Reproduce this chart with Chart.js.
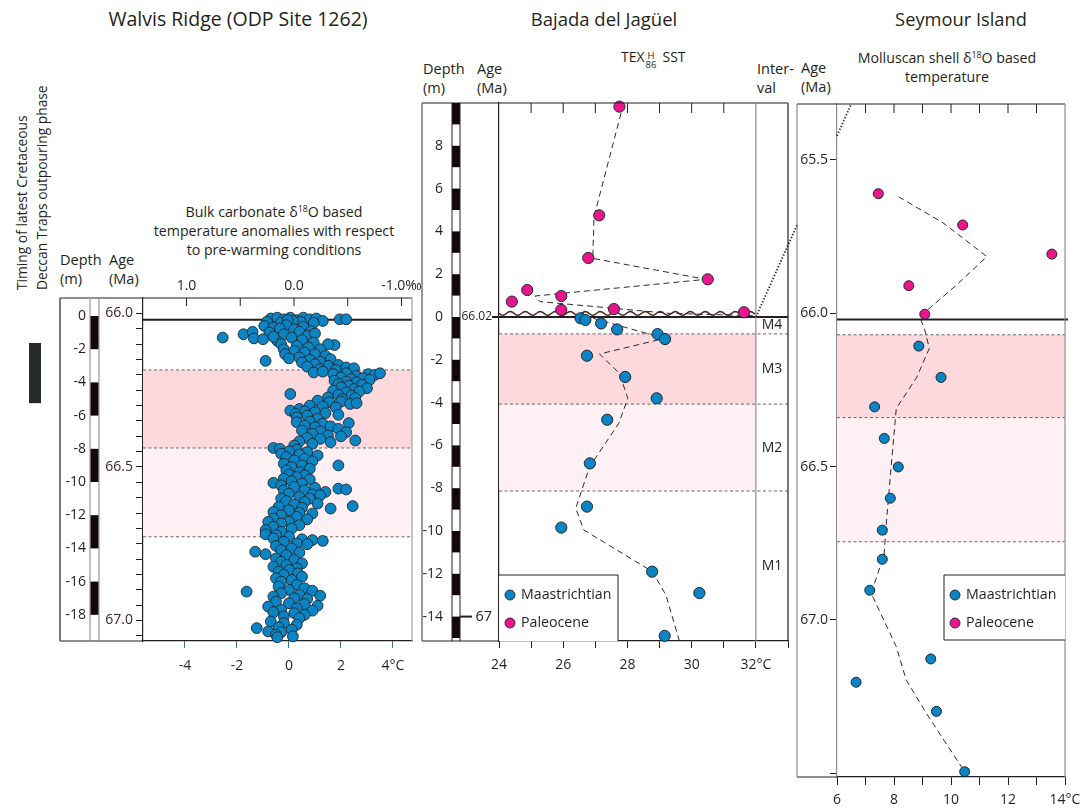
<!DOCTYPE html>
<html lang="en">
<head>
<meta charset="UTF-8">
<title>Latest Maastrichtian warming: Walvis Ridge, Bajada del Jagüel, Seymour Island</title>
<script src="https://cdn.jsdelivr.net/npm/chart.js"></script>
<style>
  body { margin: 0; background: #fff; }
  #page { position: relative; width: 1086px; height: 809px; overflow: hidden;
          font-family: "Open Sans", sans-serif; color: #231f20; }
  #page canvas { position: absolute; }
  .t { position: absolute; white-space: nowrap; font-size: 14.5px; line-height: 18px; transform: translate(0, -50%); }
  .c { transform: translate(-50%, -50%); text-align: center; }
  .sub { font-size: 14.2px; line-height: 19px; }
  sup { font-size: 0.62em; line-height: 0; vertical-align: 0.55em; }
  .ss { display: inline-block; vertical-align: -6px; font-size: 9.5px; line-height: 9px; margin: 0 6px 0 1px; text-align: center; }
  .ss span { display: block; }
  .rot { position: absolute; left: 12px; top: 290px; transform-origin: 0 0; transform: rotate(-90deg);
         font-size: 13.8px; line-height: 19.5px; white-space: nowrap; }
</style>
</head>
<body>
<div id="page">
  <div class="t c" style="left:238px;top:19px;font-size:19.5px">Walvis Ridge (ODP Site 1262)</div>
  <div class="t c" style="left:604px;top:19px;font-size:18.5px">Bajada del Jagüel</div>
  <div class="t c" style="left:961px;top:19px;font-size:18.3px">Seymour Island</div>

  <div class="rot">Timing of latest Cretaceous<br>Deccan Traps outpouring phase</div>
  <div class="t" style="left:60px;top:260px">Depth</div>
  <div class="t" style="left:60px;top:279px">(m)</div>
  <div class="t" style="left:109px;top:260px">Age</div>
  <div class="t" style="left:109px;top:279px">(Ma)</div>
  <div class="t c sub" style="left:274px;top:230px">Bulk carbonate δ<sup>18</sup>O based<br>temperature anomalies with respect<br>to pre-warming conditions</div>

  <div class="t" style="left:423px;top:69px">Depth</div>
  <div class="t" style="left:423px;top:88px">(m)</div>
  <div class="t" style="left:477px;top:69px">Age</div>
  <div class="t" style="left:477px;top:88px">(Ma)</div>
  <div class="t" style="left:621px;top:58px;font-size:14px">TEX<span class="ss"><span>H</span><span>86</span></span>SST</div>
  <div class="t" style="left:757px;top:69px">Inter-</div>
  <div class="t" style="left:757px;top:88px">val</div>

  <div class="t" style="left:801px;top:68px">Age</div>
  <div class="t" style="left:801px;top:87px">(Ma)</div>
  <div class="t c sub" style="left:947px;top:67px">Molluscan shell δ<sup>18</sup>O based<br>temperature</div>

  <canvas id="walvis" width="440" height="430" style="left:0;top:260px"></canvas>
  <canvas id="jaguel" width="375" height="590" style="left:420px;top:95px"></canvas>
  <canvas id="seymour" width="296" height="714" style="left:790px;top:95px"></canvas>
  <canvas id="links" width="1086" height="809" style="left:0;top:0"></canvas>
</div>

<script>
// ---------- Walvis Ridge (ODP 1262): [depth m, temperature anomaly °C] ----------
const walvisPoints = [
  [-0.15,-0.7],[-0.1,-0.45],[-0.2,-0.2],[-0.1,0.05],[-0.25,0.3],[-0.1,0.55],[-0.2,0.8],[-0.15,1.05],[-0.3,1.3],
  [-0.2,1.95],[-0.2,2.2],[-0.35,-0.85],[-0.4,-0.3],[-0.35,0.45],[-0.3,0.15],[-0.4,0.95],[-0.25,-0.05],
  [-0.6,-0.95],[-0.7,-0.6],[-0.55,-0.1],[-0.8,0.2],[-0.65,0.55],[-0.9,0.85],[-0.75,-0.35],[-1.0,-0.75],
  [-1.1,-0.2],[-0.95,0.4],[-1.2,0.7],[-1.05,1.0],[-1.3,-2.55],[-1.1,-1.75],[-0.95,-1.4],[-1.35,-1.35],
  [-1.4,-1.0],[-1.3,0.1],[-1.5,-0.45],[-1.45,0.5],[-1.6,0.95],[-1.25,-0.6],
  [-1.7,-0.3],[-1.75,1.75],[-1.7,1.5],[-1.8,0.3],[-1.9,0.75],[-2.0,-0.2],[-2.0,1.2],[-2.1,0.2],[-2.2,0.6],
  [-2.3,-0.15],[-2.3,1.0],[-2.4,1.4],[-2.5,0.4],[-2.55,0.0],[-2.7,-0.9],[-2.65,0.8],[-2.75,1.2],[-2.6,1.6],[-2.8,0.5],
  [-2.9,1.0],[-3.0,1.5],[-2.95,1.9],[-3.1,2.2],[-3.05,0.7],[-3.2,1.2],[-3.25,1.8],[-3.15,2.5],
  [-3.4,0.95],[-3.35,1.3],[-3.5,1.7],[-3.45,2.2],[-3.6,2.6],[-3.5,3.05],[-3.55,3.3],[-3.45,3.5],[-3.7,2.0],
  [-3.8,2.4],[-3.75,2.85],[-3.9,1.75],[-3.95,2.2],[-3.85,3.1],[-4.0,2.6],
  [-4.1,1.9],[-4.2,2.3],[-4.15,2.8],[-4.3,2.0],[-4.4,2.5],[-4.35,3.0],[-4.5,1.7],[-4.6,2.2],[-4.55,2.7],
  [-4.7,0.05],[-4.75,1.9],[-4.8,2.4],[-4.9,1.5],[-5.0,2.05],[-4.95,2.55],
  [-5.1,1.1],[-5.2,1.55],[-5.15,2.0],[-5.3,2.35],[-5.25,2.6],[-5.4,0.8],[-5.45,1.3],[-5.5,1.8],[-5.6,0.4],
  [-5.7,0.05],[-5.75,0.6],[-5.8,1.0],[-5.9,0.25],[-5.85,1.4],[-6.0,0.7],[-5.95,1.9],[-6.1,0.3],[-6.2,1.1],
  [-6.4,0.3],[-6.35,0.8],[-6.5,1.3],[-6.45,2.3],[-6.6,0.6],[-6.7,1.0],[-6.65,1.6],[-6.8,1.9],[-6.9,0.5],
  [-6.95,1.2],[-7.0,2.2],[-7.1,0.9],[-7.2,1.5],[-7.25,2.0],[-7.35,0.7],[-7.4,1.2],[-7.5,2.55],[-7.55,0.4],
  [-7.6,1.6],[-7.7,0.9],[-7.8,0.2],
  [-7.95,-0.6],[-8.0,-0.35],[-8.05,0.3],[-8.15,0.0],[-8.2,0.7],[-8.3,-0.3],[-8.35,0.4],[-8.4,1.1],[-8.5,-0.1],
  [-8.6,0.6],[-8.7,0.2],[-8.75,0.9],[-8.9,-0.2],[-9.0,1.9],[-9.0,0.5],[-9.1,0.1],[-9.2,0.8],[-9.3,-0.1],[-9.4,0.4],
  [-9.55,0.0],[-9.6,0.6],[-9.7,0.3],[-9.8,-0.2],[-9.85,0.8],[-9.95,0.1],[-10.05,-0.6],[-10.1,0.5],[-10.2,-0.3],
  [-10.3,0.2],[-10.35,1.0],[-10.4,1.9],[-10.45,2.2],[-10.5,-0.2],[-10.5,0.6],[-10.6,1.4],[-10.7,0.0],[-10.75,0.9],
  [-10.8,1.2],[-10.9,0.4],[-11.0,-0.3],[-11.0,0.8],
  [-11.15,-0.1],[-11.2,0.6],[-11.3,1.1],[-11.35,0.2],[-11.45,2.45],[-11.5,-0.4],[-11.55,0.5],[-11.6,1.6],
  [-11.7,0.0],[-11.8,-0.6],[-11.85,0.4],[-11.9,0.9],[-12.0,-0.3],[-12.1,0.3],[-12.2,-0.6],[-12.25,0.7],
  [-12.4,-0.8],[-12.4,0.0],[-12.5,-0.3],[-12.6,0.4],[-12.7,-0.6],[-12.8,0.1],[-12.9,-0.9],[-13.0,-0.3],
  [-13.15,-0.9],[-13.2,-0.5],[-13.3,0.0],[-13.4,-0.6],[-13.45,0.5],[-13.5,0.9],[-13.55,1.3],[-13.6,-0.2],
  [-13.7,0.3],[-13.75,0.7],[-13.85,-0.5],[-14.0,0.1],[-14.1,-0.3],[-14.2,-1.3],[-14.25,0.4],[-14.35,-0.9],[-14.4,-0.1],
  [-14.6,-0.5],[-14.7,0.2],[-14.8,-0.3],[-14.9,0.5],[-15.0,-0.1],[-15.1,-0.6],[-15.2,0.3],[-15.3,0.0],
  [-15.4,-0.4],[-15.5,0.35],[-15.6,-0.2],[-15.7,0.5],[-15.8,-0.5],[-15.9,0.1],[-16.0,-0.3],
  [-16.2,0.3],[-16.3,-0.4],[-16.4,0.6],[-16.5,0.0],[-16.6,-1.63],[-16.55,0.9],[-16.7,-0.3],[-16.8,0.4],
  [-16.85,1.2],[-16.9,-0.6],[-17.0,0.2],[-17.05,0.7],
  [-17.2,-0.5],[-17.3,0.0],[-17.35,0.6],[-17.45,1.1],[-17.5,-0.8],[-17.6,0.3],[-17.7,-0.3],[-17.75,0.9],
  [-17.85,-0.6],[-17.9,0.2],[-18.0,0.6],[-18.1,-0.2],[-18.2,0.4],
  [-18.4,-0.7],[-18.5,-0.2],[-18.6,0.3],[-18.8,-1.24],[-18.75,-0.4],[-18.9,0.1],[-19.0,-0.8],[-19.05,-0.3],
  [-19.2,-0.5],[-19.3,0.15],[-19.35,-0.45]
];
const walvisDepthTicks = [0, -2, -4, -6, -8, -10, -12, -14, -16, -18];
const walvisCores = [[0, -2], [-4, -6], [-8, -10], [-12, -14], [-16, -18]];
const walvisAgeLabels = [66.0, 66.5, 67.0];
const walvisTempTicks = [-4, -2, 0, 2, 4];
const walvisTempLabels = ['-4', '-2', '0', '2', '4°C'];
const walvisPermilTicks = [1.0, 0.5, 0, -0.5, -1.0];
const walvisPermilLabels = ['1.0', '', '0.0', '', '-1.0‰'];
const walvisBandDepths = [-3.25, -7.95, -13.3];
const deccanAges = [66.096, 66.292];

// ---------- Bajada del Jagüel: TEX86H SST ----------
const jagMaaDepth = [-0.06, -0.14, -0.3, -0.58, -0.8, -1.03, -1.81, -2.8, -3.8, -4.8, -6.84, -8.86, -9.84, -11.9, -12.9, -14.9];
const jagMaaTemp  = [26.54, 26.69, 27.18, 27.68, 28.94, 29.17, 26.74, 27.93, 28.91, 27.37, 26.83, 26.74, 25.94, 28.77, 30.24, 29.16];
const jagPalDepth = [9.83, 4.75, 2.76, 1.76, 1.26, 0.72, 0.98, 0.33, 0.37, 0.22];
const jagPalTemp  = [27.75, 27.12, 26.78, 30.5, 24.88, 24.4, 25.94, 25.94, 27.58, 31.63];
const jagMaaTrendDepth = [-0.06, -1.0, -1.73, -2.63, -3.8, -4.97, -7.0, -8.94, -9.95, -11.9, -13.0, -15.1];
const jagMaaTrendTemp  = [26.93, 29.15, 27.13, 27.75, 28.01, 27.73, 26.82, 26.39, 26.64, 28.78, 29.2, 29.61];
const jagPalTrendDepth = [9.52, 4.69, 2.74, 1.76, 0.98, 0.72, 0.17, 0.06];
const jagPalTrendTemp  = [27.8, 26.96, 26.92, 30.44, 25.12, 25.27, 29.3, 31.94];
const jagDepthTicks = [8, 6, 4, 2, 0, -2, -4, -6, -8, -10, -12, -14];
const jagAgeDepths = [0, -14];
const jagAgeLabels = ['66.02', '67'];
const jagCores = [[-15, -14], [-13, -12], [-11, -10], [-9, -8], [-7, -6], [-5, -4], [-3, -2], [-1, 0],
                  [1, 2], [3, 4], [5, 6], [7, 8], [9, 10]];
const jagTempTicks = [24, 25, 26, 27, 28, 29, 30, 31, 32, 33];
const jagTempLabels = ['24', '', '26', '', '28', '', '30', '', '32°C', ''];
const jagTopTicks = [25, 26, 27, 28, 29, 30, 31];
const jagBandDepths = [-0.79, -4.07, -8.13];
const jagIntervals = ['M4', 'M3', 'M2', 'M1'];
const jagIntervalBounds = [0, -0.79, -4.07, -8.13, -15.1];

// ---------- Seymour Island: molluscan d18O temperature ----------
const seyPalAge  = [65.61, 65.712, 65.807, 65.91, 66.003];
const seyPalTemp = [7.45, 10.41, 13.54, 8.52, 9.08];
const seyMaaAge  = [66.107, 66.209, 66.305, 66.408, 66.501, 66.603, 66.707, 66.802, 66.903, 67.127, 67.203, 67.298, 67.495];
const seyMaaTemp = [8.87, 9.65, 7.32, 7.66, 8.15, 7.87, 7.59, 7.59, 7.15, 9.29, 6.67, 9.49, 10.48];
const seyTrendAge  = [65.62, 65.705, 65.815, 65.908, 66.011, 66.054, 66.114, 66.21, 66.31, 66.5, 66.685, 66.788, 66.913, 67.087, 67.196, 67.305, 67.495];
const seyTrendTemp = [8.16, 9.72, 11.26, 10.19, 8.9, 9.08, 9.24, 8.79, 8.08, 7.9, 7.73, 7.65, 7.2, 8.08, 8.43, 9.14, 10.48];
const seyAgeTicks = [65.5, 66.0, 66.5, 67.0, 67.5];
const seyAgeLabels = ['65.5', '66.0', '66.5', '67.0', ''];
const seyTempTicks = [6, 7, 8, 9, 10, 11, 12, 13, 14];
const seyTempLabels = ['6', '', '8', '', '10', '', '12', '', '14°C'];
const seyTopTicks = [7, 8, 9, 10, 11, 12, 13];
const seyBandAges = [66.07, 66.34, 66.745];

const KPG_AGE = 66.02;
const legendNames = ['Maastrichtian', 'Paleocene'];
const connectorFrom = [32, 0];   // Jagüel: °C, depth
const connectorTo = 6.5;         // Seymour: °C at top edge

// colours
const INK = '#231f20';
const GREY = '#8e8e8e';
const BLUE = '#0b84c4';
const PINK = '#ec148c';
const EDGE = '#1d2830';
const PINK_DARK = '#fdd9de';
const PINK_LIGHT = '#fff0f3';
const DASH = '#6f6468';

Chart.defaults.font.family = '"Open Sans", sans-serif';
Chart.defaults.font.size = 13.5;
Chart.defaults.color = INK;

function hline(ctx, x1, x2, y, color, width, dash) {
  ctx.save();
  ctx.strokeStyle = color; ctx.lineWidth = width; ctx.setLineDash(dash || []);
  ctx.beginPath(); ctx.moveTo(x1, y); ctx.lineTo(x2, y); ctx.stroke();
  ctx.restore();
}
function vline(ctx, x, y1, y2, color, width, dash) {
  ctx.save();
  ctx.strokeStyle = color; ctx.lineWidth = width; ctx.setLineDash(dash || []);
  ctx.beginPath(); ctx.moveTo(x, y1); ctx.lineTo(x, y2); ctx.stroke();
  ctx.restore();
}
function drawBands(ctx, scale, bounds, x1, x2, xDash) {
  const p = bounds.map(v => scale.getPixelForValue(v));
  ctx.fillStyle = PINK_DARK; ctx.fillRect(x1, p[0], x2 - x1, p[1] - p[0]);
  ctx.fillStyle = PINK_LIGHT; ctx.fillRect(x1, p[1], x2 - x1, p[2] - p[1]);
  p.forEach(y => hline(ctx, x1, xDash, y, DASH, 1, [3, 2.5]));
}
function drawLegend(ctx, left, top, w, h, sides) {
  ctx.save();
  ctx.fillStyle = '#fff';
  ctx.fillRect(left, top, w, h);
  hline(ctx, left, left + w, top, INK, 1);
  if (sides.includes('bottom')) hline(ctx, left, left + w, top + h, INK, 1);
  if (sides.includes('left')) vline(ctx, left, top, top + h, INK, 1);
  if (sides.includes('right')) vline(ctx, left + w, top, top + h, INK, 1);
  [BLUE, PINK].forEach((c, i) => {
    const cy = top + 20 + i * 28;
    ctx.beginPath(); ctx.arc(left + 11, cy, 5, 0, Math.PI * 2);
    ctx.fillStyle = c; ctx.fill();
    ctx.lineWidth = 0.9; ctx.strokeStyle = EDGE; ctx.stroke();
    ctx.fillStyle = INK; ctx.font = '14.2px "Open Sans", sans-serif';
    ctx.textAlign = 'left'; ctx.textBaseline = 'middle';
    ctx.fillText(legendNames[i], left + 22, cy);
  });
  ctx.restore();
}
function drawInnerTicks(ctx, scale, values, top, len) {
  values.forEach(v => vline(ctx, scale.getPixelForValue(v), top, top + len, INK, 1));
}
function fixedTicks(values) {
  return s => { s.ticks = values.map(v => ({ value: v })); };
}
// fixed axis size, and no extra room for overhanging end labels
function fitWidth(w) {
  return s => { s.width = w; s.paddingTop = 0; s.paddingBottom = 0; };
}
function fitHeight(h) {
  return s => { s.height = h; s.paddingLeft = 0; s.paddingRight = 0; };
}
const common = {
  responsive: false,
  animation: false,
  events: [],
  plugins: { legend: { display: false }, tooltip: { enabled: false } }
};

// ---------------- Walvis Ridge ----------------
const walvisAgeTicks = Array.from({ length: 22 }, (_, i) => +(66.0 + i * 0.05).toFixed(2));

const walvisDecor = {
  id: 'walvisDecor',
  beforeDatasetsDraw(chart) {
    const { ctx, chartArea: a, scales } = chart;
    drawBands(ctx, scales.y, walvisBandDepths, a.left, a.right, a.right);
    hline(ctx, a.left, a.right, scales.yAge.getPixelForValue(KPG_AGE), INK, 2);
  },
  afterDraw(chart) {
    const { ctx, chartArea: a, scales } = chart;
    const y = scales.y;
    hline(ctx, y.left, a.right, a.top, INK, 1.2);
    hline(ctx, y.left, a.left, a.bottom, INK, 1.2);
    vline(ctx, y.left, a.top, a.bottom, INK, 1.2);
    vline(ctx, a.right, a.top, a.bottom, '#a0a0a0', 1.2);
    const s1 = y.right - 10, s2 = y.right - 1;
    ctx.fillStyle = '#140707';
    walvisCores.forEach(([d1, d2]) => {
      const p1 = y.getPixelForValue(d1), p2 = y.getPixelForValue(d2);
      ctx.fillRect(s1, p1, s2 - s1, p2 - p1);
    });
    vline(ctx, s1, a.top, a.bottom, '#a0a0a0', 1.3);
    vline(ctx, s2, a.top, a.bottom, '#a0a0a0', 1.3);
    drawInnerTicks(ctx, scales.xTop, walvisPermilTicks, a.top, 8);
    const d1 = scales.yAge.getPixelForValue(deccanAges[0]);
    const d2 = scales.yAge.getPixelForValue(deccanAges[1]);
    ctx.fillStyle = '#26292c';
    ctx.fillRect(29, d1, 12, d2 - d1);
  }
};

const walvis = new Chart(document.getElementById('walvis'), {
  type: 'scatter',
  data: {
    datasets: [{
      data: walvisPoints.map(([d, t]) => ({ x: t, y: d })),
      backgroundColor: BLUE, borderColor: EDGE, borderWidth: 0.9,
      pointRadius: 5.4, clip: false
    }]
  },
  options: {
    ...common,
    layout: { padding: { left: 60, right: 28, top: 0, bottom: 0 } },
    scales: {
      x: {
        type: 'linear', position: 'bottom', min: -5.615, max: 4.731,
        afterFit: fitHeight(49),
        afterBuildTicks: fixedTicks(walvisTempTicks),
        ticks: { autoSkip: false, maxRotation: 0, padding: 10, font: { size: 14 }, callback: (v, i) => walvisTempLabels[i] },
        grid: { drawOnChartArea: false, tickLength: 7, tickColor: '#46708a' },
        border: { color: INK, width: 1.2 }
      },
      xTop: {
        type: 'linear', position: 'top', reverse: true, min: -1.098, max: 1.405,
        afterFit: fitHeight(38),
        afterBuildTicks: fixedTicks(walvisPermilTicks),
        ticks: { autoSkip: false, maxRotation: 0, padding: 4, font: { size: 14 }, callback: (v, i) => walvisPermilLabels[i] },
        grid: { display: false, drawTicks: false },
        border: { display: false }
      },
      y: {
        type: 'linear', position: 'left', weight: 2, min: -19.578, max: 1.084,
        afterFit: fitWidth(40),
        afterBuildTicks: fixedTicks(walvisDepthTicks),
        ticks: { autoSkip: false, padding: 14, font: { size: 14 }, callback: v => String(v) },
        grid: { display: false, drawTicks: false },
        border: { display: false }
      },
      yAge: {
        type: 'linear', position: 'left', weight: 1, reverse: true, min: 65.9495, max: 67.0668,
        afterFit: fitWidth(43),
        afterBuildTicks: fixedTicks(walvisAgeTicks),
        ticks: {
          autoSkip: false, padding: 3, color: '#3d2326', font: { size: 14 },
          callback: v => walvisAgeLabels.some(l => Math.abs(l - v) < 1e-6) ? v.toFixed(1) : ''
        },
        grid: { drawOnChartArea: false, tickLength: 7, tickColor: INK },
        border: { display: true, color: INK, width: 1.2 }
      }
    }
  },
  plugins: [walvisDecor]
});

// ---------------- Bajada del Jagüel ----------------
const jagDecor = {
  id: 'jagDecor',
  beforeDatasetsDraw(chart) {
    const { ctx, chartArea: a, scales: { x, y, yAge } } = chart;
    const split = x.getPixelForValue(32);
    drawBands(ctx, y, jagBandDepths, a.left, split, a.right);
    // unconformity (wavy line) just above the K-Pg boundary
    ctx.save();
    ctx.strokeStyle = '#4b2b22'; ctx.lineWidth = 1.5;
    ctx.beginPath();
    const yw = y.getPixelForValue(0.17);
    for (let px = a.left; px <= split; px += 1) {
      const py = yw + 1.8 * Math.sin((px - a.left) / 15 * Math.PI * 2);
      if (px === a.left) ctx.moveTo(px, py); else ctx.lineTo(px, py);
    }
    ctx.stroke();
    ctx.restore();
    hline(ctx, yAge.right - 7, a.right, y.getPixelForValue(0), INK, 2);
  },
  afterDraw(chart) {
    const { ctx, chartArea: a, scales: { x, y } } = chart;
    hline(ctx, y.left, a.right, a.top, INK, 1.2);
    hline(ctx, y.left, a.left, a.bottom, INK, 1.2);
    vline(ctx, y.left, a.top, a.bottom, '#555', 1.2);
    vline(ctx, a.right, a.top, a.bottom, INK, 1.2);
    vline(ctx, x.getPixelForValue(32), a.top, a.bottom, GREY, 1.2);
    const s1 = y.right - 8, s2 = y.right;
    ctx.fillStyle = '#140707';
    jagCores.forEach(([d1, d2]) => {
      const p1 = y.getPixelForValue(d1), p2 = y.getPixelForValue(d2);
      ctx.fillRect(s1, p2, s2 - s1, p1 - p2);
    });
    vline(ctx, s1, a.top, a.bottom, INK, 1);
    vline(ctx, s2, a.top, a.bottom, INK, 1);
    hline(ctx, s2, s2 + 12, y.getPixelForValue(jagAgeDepths[1]), INK, 2);
    drawInnerTicks(ctx, x, jagTopTicks, a.top, 10);
    ctx.save();
    ctx.fillStyle = INK; ctx.font = '14px "Open Sans", sans-serif';
    ctx.textAlign = 'center'; ctx.textBaseline = 'middle';
    jagIntervals.forEach((name, i) => {
      const cy = (y.getPixelForValue(jagIntervalBounds[i]) + y.getPixelForValue(jagIntervalBounds[i + 1])) / 2;
      ctx.fillText(name, x.getPixelForValue(32.5), cy);
    });
    ctx.restore();
    drawLegend(ctx, a.left, a.bottom - 66, 119, 66, ['right']);
  }
};

const dashed = { showLine: true, pointRadius: 0, borderColor: '#2b2b2b', borderWidth: 1, borderDash: [6, 4], fill: false, tension: 0 };

const jaguel = new Chart(document.getElementById('jaguel'), {
  type: 'scatter',
  data: {
    datasets: [
      { label: 'Paleocene', data: jagPalDepth.map((d, i) => ({ x: jagPalTemp[i], y: d })),
        backgroundColor: PINK, borderColor: EDGE, borderWidth: 1, pointRadius: 5.6, clip: false },
      { label: 'Maastrichtian', data: jagMaaDepth.map((d, i) => ({ x: jagMaaTemp[i], y: d })),
        backgroundColor: BLUE, borderColor: EDGE, borderWidth: 1, pointRadius: 5.6, clip: false },
      { ...dashed, data: jagPalTrendDepth.map((d, i) => ({ x: jagPalTrendTemp[i], y: d })) },
      { ...dashed, data: jagMaaTrendDepth.map((d, i) => ({ x: jagMaaTrendTemp[i], y: d })) }
    ]
  },
  options: {
    ...common,
    layout: { padding: { left: 2, right: 7, top: 8, bottom: 0 } },
    scales: {
      x: {
        type: 'linear', position: 'bottom', min: 24, max: 33,
        afterFit: fitHeight(44),
        afterBuildTicks: fixedTicks(jagTempTicks),
        ticks: { autoSkip: false, maxRotation: 0, padding: 9, font: { size: 14 }, callback: (v, i) => jagTempLabels[i] },
        grid: { drawOnChartArea: false, tickLength: 7, tickColor: INK },
        border: { color: INK, width: 1.2 }
      },
      y: {
        type: 'linear', position: 'left', weight: 2, min: -15.14, max: 10.0,
        afterFit: fitWidth(38),
        afterBuildTicks: fixedTicks(jagDepthTicks),
        ticks: { autoSkip: false, padding: 17, font: { size: 14 }, callback: v => String(v) },
        grid: { display: false, drawTicks: false },
        border: { display: false }
      },
      yAge: {
        type: 'linear', position: 'left', weight: 1, min: -15.14, max: 10.0,
        afterFit: fitWidth(39),
        afterBuildTicks: fixedTicks(jagAgeDepths),
        ticks: {
          autoSkip: false, padding: 7,
          font: c => ({ size: c.index === 0 ? 12 : 14.5 }),
          callback: (v, i) => jagAgeLabels[i]
        },
        grid: { display: false, drawTicks: false },
        border: { display: true, color: INK, width: 1.2 }
      }
    }
  },
  plugins: [jagDecor]
});

// ---------------- Seymour Island ----------------
const seyDecor = {
  id: 'seyDecor',
  beforeDatasetsDraw(chart) {
    const { ctx, chartArea: a, scales: { y } } = chart;
    drawBands(ctx, y, seyBandAges, a.left, a.right, a.right);
    hline(ctx, a.left, a.right + 3, y.getPixelForValue(KPG_AGE), INK, 2);
  },
  afterDraw(chart) {
    const { ctx, chartArea: a, scales: { x, y } } = chart;
    hline(ctx, y.left, a.right, a.top, INK, 1.2);
    hline(ctx, y.left, a.left, a.bottom, INK, 1.2);
    vline(ctx, y.left, a.top, a.bottom, GREY, 1.2);
    vline(ctx, a.right, a.top, a.bottom, GREY, 1.2);
    drawInnerTicks(ctx, x, seyTopTicks, a.top, 9);
    drawLegend(ctx, a.right - 121, a.bottom - 202, 121, 65, ['left', 'bottom']);
  }
};

const seymour = new Chart(document.getElementById('seymour'), {
  type: 'scatter',
  data: {
    datasets: [
      { label: 'Paleocene', data: seyPalAge.map((g, i) => ({ x: seyPalTemp[i], y: g })),
        backgroundColor: PINK, borderColor: EDGE, borderWidth: 1, pointRadius: 5, clip: false },
      { label: 'Maastrichtian', data: seyMaaAge.map((g, i) => ({ x: seyMaaTemp[i], y: g })),
        backgroundColor: BLUE, borderColor: EDGE, borderWidth: 1, pointRadius: 5, clip: false },
      { ...dashed, data: seyTrendAge.map((g, i) => ({ x: seyTrendTemp[i], y: g })) }
    ]
  },
  options: {
    ...common,
    layout: { padding: { left: 7, right: 21, top: 9, bottom: 0 } },
    scales: {
      x: {
        type: 'linear', position: 'bottom', min: 6, max: 14,
        afterFit: fitHeight(32),
        afterBuildTicks: fixedTicks(seyTempTicks),
        ticks: { autoSkip: false, maxRotation: 0, padding: 7, font: { size: 14 }, callback: (v, i) => seyTempLabels[i] },
        grid: { drawOnChartArea: false, tickLength: 8, tickColor: INK },
        border: { color: INK, width: 1.2 }
      },
      y: {
        type: 'linear', position: 'left', reverse: true, min: 65.3175, max: 67.512,
        afterFit: fitWidth(40),
        afterBuildTicks: fixedTicks(seyAgeTicks),
        ticks: { autoSkip: false, padding: 2, font: { size: 14 }, callback: (v, i) => seyAgeLabels[i] },
        grid: { drawOnChartArea: false, tickLength: 7, tickColor: INK },
        border: { display: true, color: GREY, width: 1.2 }
      }
    }
  },
  plugins: [seyDecor]
});

// ---------------- dotted correlation line between the two sections ----------------
(function drawLink() {
  const cv = document.getElementById('links');
  const ctx = cv.getContext('2d');
  const jc = jaguel.canvas, sc = seymour.canvas;
  const x0 = jc.offsetLeft + jaguel.scales.x.getPixelForValue(connectorFrom[0]);
  const y0 = jc.offsetTop + jaguel.scales.y.getPixelForValue(connectorFrom[1]);
  const x1 = sc.offsetLeft + seymour.scales.x.getPixelForValue(connectorTo);
  const y1 = sc.offsetTop + seymour.chartArea.top;
  const at = x => y0 + (y1 - y0) * (x - x0) / (x1 - x0);
  const boxLeft = sc.offsetLeft + seymour.scales.y.left;
  const areaLeft = sc.offsetLeft + seymour.chartArea.left;
  ctx.strokeStyle = '#2b2b2b'; ctx.lineWidth = 1.8; ctx.setLineDash([1.4, 1.8]);
  ctx.beginPath();
  ctx.moveTo(x0, y0); ctx.lineTo(boxLeft, at(boxLeft));
  ctx.moveTo(areaLeft, at(areaLeft)); ctx.lineTo(x1, y1);
  ctx.stroke();
})();
</script>
</body>
</html>
